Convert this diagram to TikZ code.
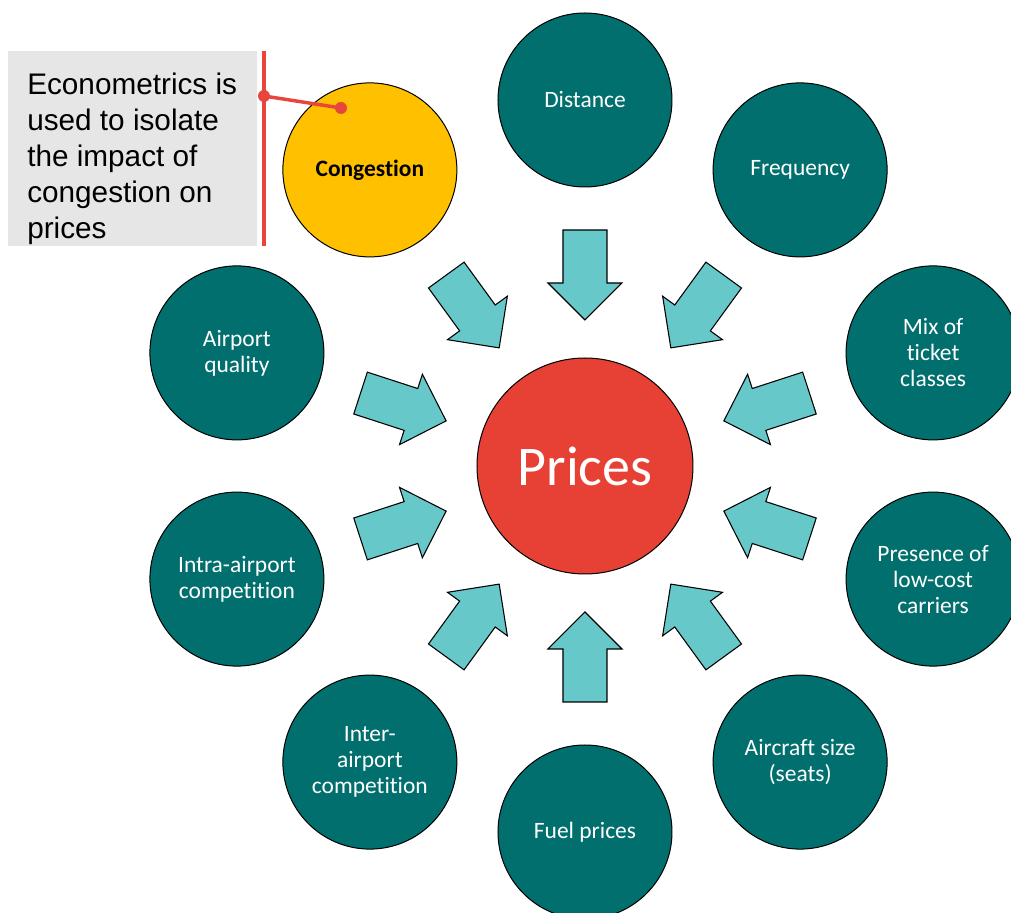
\documentclass[tikz,border=0pt]{standalone}
\usepackage{fontspec}
\setmainfont{Carlito}[RawFeature=-liga]
\newfontfamily\arialfont{Liberation Sans}
\definecolor{tealc}{RGB}{0,111,109}
\definecolor{arrowc}{RGB}{102,200,200}
\definecolor{yellowc}{RGB}{255,192,0}
\definecolor{redc}{RGB}{231,64,53}
\definecolor{redl}{RGB}{232,69,60}
\definecolor{grayc}{RGB}{230,230,230}
\begin{document}
\begin{tikzpicture}[x=0.75pt,y=0.75pt,
  factor/.style={circle,draw=black,line width=0.75pt,fill=tealc,minimum size=130.5pt,inner sep=0pt,align=center,text=white,font=\fontsize{17.6}{19.5}\selectfont},
  blockarrow/.style={draw=black,line width=0.8pt,fill=arrowc,line join=miter},
  reddot/.style={circle,fill=redl,inner sep=0pt,minimum size=9pt}]
\useasboundingbox (-585,-447) rectangle (426,466);
% centre
\node[circle,draw=black,line width=0.75pt,fill=redc,minimum size=162pt,inner sep=0pt,text=white,font=\fontsize{42}{48}\selectfont] (prices) at (0,0) {Prices};
% factors
\node[factor] (dist) at (90:366) {Distance};
\node[factor] (freq) at (54:366) {Frequency};
\node[factor] (mix) at (18:366) {Mix of\\ticket\\classes};
\node[factor] (lcc) at (-18:366) {Presence of\\low-cost\\carriers};
\node[factor] (size) at (-54:366) {Aircraft size\\(seats)};
\node[factor] (fuel) at (-90:366) {Fuel prices};
\node[factor] (inter) at (-126:366) {Inter-\\airport\\competition};
\node[factor] (intra) at (-162:366) {Intra-airport\\competition};
\node[factor] (qual) at (162:366) {Airport\\quality};
\node[factor,fill=yellowc,text=black,font=\fontsize{17.6}{19.5}\selectfont\bfseries] (cong) at (126:366) {Congestion};
% block arrows
\foreach \a in {90,54,18,-18,-54,-90,-126,-162,162,126}{
  \begin{scope}[rotate=\a]
    \draw[blockarrow] (236,22) -- (183,22) -- (183,37) -- (146,0) -- (183,-37) -- (183,-22) -- (236,-22) -- cycle;
  \end{scope}
}
% callout box
\fill[grayc] (-577,415) rectangle (-328,220);
\node[anchor=north west,inner sep=0pt,align=left,font=\arialfont\fontsize{22.3}{27}\selectfont] (note) at (-558,393) {Econometrics is\\used to isolate\\the impact of\\congestion on\\prices};
\draw[redl,line width=3pt] (-321,415) -- (-321,220);
\coordinate (c1) at (-321,370);
\coordinate (c2) at (-244,358);
\draw[redl,line width=2.6pt] (c1) -- (c2);
\node[reddot] at (c1) {};
\node[reddot] at (c2) {};
\end{tikzpicture}
\end{document}
